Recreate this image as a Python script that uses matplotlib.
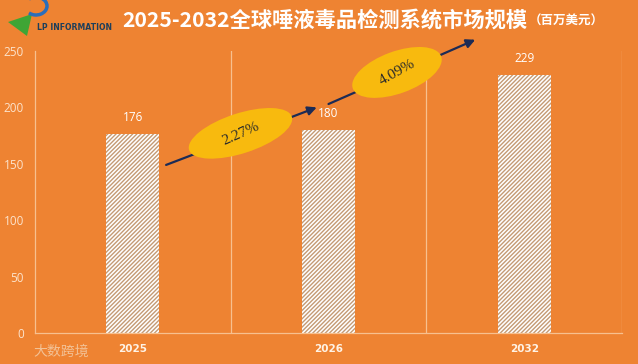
import matplotlib.pyplot as plt
from matplotlib.patches import Ellipse, Polygon, Arc

# ---------------------------
# Data
# ---------------------------
years = ["2025", "2026", "2032"]
market_size = [176, 180, 229]
growth_labels = ["2.27%", "4.09%"]
y_ticks = [0, 50, 100, 150, 200, 250]

BG = "#EE8332"
LIGHT = "#F7C08F"
TICK_COLOR = "#FCE3CC"
HATCH_COLOR = "#C49A74"
ARROW_COLOR = "#1C2B55"
ELLIPSE_COLOR = "#F8BA0E"

plt.rcParams["font.family"] = ["Noto Sans CJK SC", "DejaVu Sans"]
plt.rcParams["hatch.linewidth"] = 1.0

fig = plt.figure(figsize=(6.38, 3.64), dpi=100, facecolor=BG)
ax = fig.add_axes([35 / 638, 31 / 364, 587 / 638, 282 / 364])
ax.set_facecolor(BG)

x = list(range(len(years)))
bars = ax.bar(x, market_size, width=0.27, color="white", edgecolor=HATCH_COLOR,
              linewidth=0, hatch="////////", zorder=2)

for xi, v in zip(x, market_size):
    ax.text(xi, v + 9, str(v), ha="center", va="bottom", color="white",
            fontsize=8.5, family="Open Sans")

ax.set_xlim(-0.5, len(years) - 0.5)
ax.set_ylim(0, 250)
ax.set_yticks(y_ticks)
ax.set_yticklabels([str(t) for t in y_ticks], color=TICK_COLOR, fontsize=8.5,
                   family="Open Sans")
ax.set_xticks(x)
ax.set_xticklabels(years, color="#FFF3E6", fontsize=7.5, fontweight="bold",
                   family="DejaVu Sans")
ax.tick_params(axis="both", length=0)
ax.tick_params(axis="x", pad=8)
ax.tick_params(axis="y", pad=8)

# vertical separators between categories
ax.set_xticks([i + 0.5 for i in x], minor=True)
ax.tick_params(axis="x", which="minor", length=0)
ax.grid(axis="x", which="minor", color=LIGHT, linewidth=0.9)
ax.grid(axis="y", visible=False)

for s in ["top", "right"]:
    ax.spines[s].set_visible(False)
for s in ["left", "bottom"]:
    ax.spines[s].set_color(LIGHT)
    ax.spines[s].set_linewidth(0.9)

# ---------------------------
# Growth arrows with ellipse labels
# ---------------------------
arrows = [((0.17, 149), (0.94, 200)), ((1.0, 203), (1.75, 260))]
ellipse_centers = [(0.55, 177), (1.35, 231)]
ellipse_sizes = [(108, 40, 18), (94, 42, 20)]
text_rot = [24, 29]

for (p0, p1), c, (w, h, ang), lab, rot in zip(arrows, ellipse_centers,
                                              ellipse_sizes, growth_labels, text_rot):
    ax.annotate("", xy=p1, xytext=p0,
                arrowprops=dict(arrowstyle="-|>", color=ARROW_COLOR, lw=1.6,
                                mutation_scale=13, shrinkA=0, shrinkB=0),
                annotation_clip=False, zorder=3)
    cx, cy = ax.transData.transform(c)
    e = Ellipse((cx, cy), w, h, angle=ang, facecolor=ELLIPSE_COLOR,
                edgecolor="none", transform=None, zorder=4)
    fig.patches.append(e)
    fig.text(cx / fig.bbox.width, cy / fig.bbox.height, lab, ha="center",
             va="center", rotation=rot, fontsize=11, color="#2B2B2B",
             family="Liberation Serif", zorder=5)

# ---------------------------
# Title
# ---------------------------
t = fig.text(122 / 638, 1 - 20 / 364, "2025-2032全球唾液毒品检测系统市场规模",
             ha="left", va="center", color="white", fontsize=15.3,
             fontweight="bold")
fig.canvas.draw()
bb = t.get_window_extent()
fig.text(bb.x1 / fig.bbox.width + 0.002, 1 - 21 / 364, "（百万美元）",
         ha="left", va="center", color="white", fontsize=9, fontweight="bold")

# logo
fig.text(37 / 638, 1 - 28 / 364, "LP INFORMATION", ha="left", va="center",
         color="#1E3F5A", fontsize=5.6, fontweight="bold", family="DejaVu Sans")
fig.patches.append(Polygon([(8 / 638, 1 - 22 / 364), (32 / 638, 1 - 14 / 364),
                            (27 / 638, 1 - 36 / 364)], closed=True,
                           facecolor="#3FA535", edgecolor="none",
                           transform=fig.transFigure))
fig.patches.append(Arc((36 / 638, 1 - 6 / 364), 22 / 638, 18 / 364, theta1=-120,
                       theta2=120, color="#2A6EBB", lw=2.5,
                       transform=fig.transFigure))

# watermark
fig.text(33 / 638, 1 - 352 / 364, "大数跨境", ha="left", va="center",
         color="#F3C8A0", fontsize=10, alpha=0.9)

fig.savefig("out.png", dpi=100, facecolor=BG)
